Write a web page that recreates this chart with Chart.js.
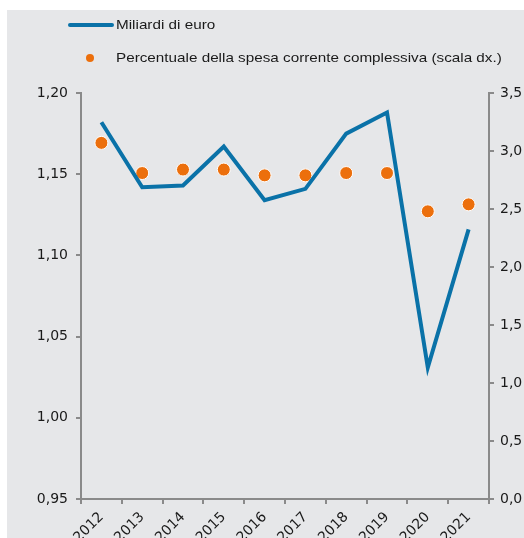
<!DOCTYPE html>
<html>
<head>
<meta charset="utf-8">
<script src="https://cdn.jsdelivr.net/npm/chart.js@4"></script>
<style>
html,body{margin:0;padding:0;background:#fff;}
#wrap{position:relative;width:524px;height:538px;overflow:hidden;}
canvas{position:absolute;left:0;top:0;}
.leg{position:absolute;font-family:"Liberation Sans",Arial,sans-serif;font-size:13.5px;color:#1a1a1a;white-space:nowrap;line-height:16px;transform:scaleX(1.13);transform-origin:0 50%;}
.lline{position:absolute;left:68px;top:23px;width:46px;height:4px;background:#0a72a8;border-radius:2px;}
.ldot{position:absolute;left:86px;top:54px;width:8px;height:8px;border-radius:50%;background:#ec6f0c;}
</style>
</head>
<body>
<div id="wrap">
<canvas id="c" width="524" height="538"></canvas>
<div class="lline"></div>
<div class="leg" style="left:116px;top:17px;">Miliardi di euro</div>
<div class="ldot"></div>
<div class="leg" style="left:116px;top:50px;">Percentuale della spesa corrente complessiva (scala dx.)</div>
</div>
<script>
const categories = ['2012','2013','2014','2015','2016','2017','2018','2019','2020','2021'];
const miliardi = [1.182, 1.142, 1.143, 1.167, 1.134, 1.141, 1.175, 1.188, 1.031, 1.116];
const percentuale = [3.07, 2.81, 2.84, 2.84, 2.79, 2.79, 2.81, 2.81, 2.48, 2.54];
const leftTicks = [0.95, 1.00, 1.05, 1.10, 1.15, 1.20];
const rightTicks = [0, 0.5, 1.0, 1.5, 2.0, 2.5, 3.0, 3.5];

const bgPlugin = {
  id: 'bg',
  beforeDraw(chart) {
    const ctx = chart.ctx;
    ctx.save();
    ctx.fillStyle = '#e6e7e9';
    ctx.fillRect(7, 10, chart.width - 7, chart.height - 10);
    ctx.restore();
  }
};

const axisColor = '#8a8a8a';
const font = {family: '"DejaVu Sans", Arial, sans-serif', size: 14};

new Chart(document.getElementById('c'), {
  type: 'line',
  data: {
    labels: categories,
    datasets: [
      {
        label: 'Percentuale della spesa corrente complessiva (scala dx.)',
        data: percentuale,
        yAxisID: 'y1',
        showLine: false,
        pointRadius: 6.5,
        pointBackgroundColor: '#ec6f0c',
        pointBorderColor: '#ffffff',
        pointBorderWidth: 1,
        order: 2
      },
      {
        label: 'Miliardi di euro',
        data: miliardi,
        yAxisID: 'y',
        borderColor: '#0a72a8',
        borderWidth: 4,
        pointRadius: 0,
        tension: 0,
        fill: false,
        order: 1
      }
    ]
  },
  options: {
    responsive: false,
    animation: false,
    devicePixelRatio: 1,
    layout: {padding: {top: 93, left: 0, right: 0, bottom: 0}},
    plugins: {legend: {display: false}, tooltip: {enabled: false}},
    scales: {
      x: {
        type: 'category',
        offset: true,
        grid: {offset: true, drawOnChartArea: false, drawTicks: true, tickLength: 5, color: axisColor, lineWidth: 2},
        border: {display: true, color: axisColor, width: 2},
        ticks: {font: font, color: '#1a1a1a', maxRotation: 45, minRotation: 45, padding: 5, autoSkip: false},
        afterFit(s) { s.height = 39; }
      },
      y: {
        position: 'left',
        min: 0.95, max: 1.20,
        afterBuildTicks(s) { s.ticks = leftTicks.map(v => ({value: v})); },
        grid: {drawOnChartArea: false, drawTicks: true, tickLength: 5, color: axisColor, lineWidth: 2},
        border: {display: true, color: axisColor, width: 2},
        ticks: {font: font, color: '#1a1a1a', padding: 8, callback: v => v.toFixed(2).replace('.', ',')},
        afterFit(s) { s.width = 81; }
      },
      y1: {
        position: 'right',
        min: 0, max: 3.5,
        afterBuildTicks(s) { s.ticks = rightTicks.map(v => ({value: v})); },
        grid: {drawOnChartArea: false, drawTicks: true, tickLength: 5, color: axisColor, lineWidth: 2},
        border: {display: true, color: axisColor, width: 2},
        ticks: {font: font, color: '#1a1a1a', padding: 6, callback: v => v.toFixed(1).replace('.', ',')},
        afterFit(s) { s.width = 35; }
      }
    }
  },
  plugins: [bgPlugin]
});
</script>
</body>
</html>
